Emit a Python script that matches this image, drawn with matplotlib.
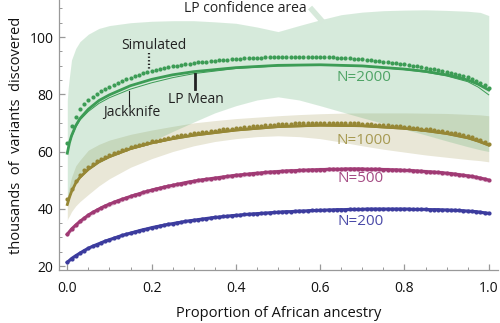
import matplotlib
matplotlib.use("Agg")
import matplotlib.pyplot as plt
import numpy as np

plt.rcParams['font.family'] = ['Open Sans', 'DejaVu Sans']

# ---------------- data ----------------
x_sim = [round(i * 0.01, 2) for i in range(101)]

sim_200 = [21.3, 22.6, 23.6, 24.5, 25.4, 26.2, 26.9, 27.5, 28.1, 28.7,
           29.2, 29.7, 30.2, 30.7, 31.1, 31.5, 31.9, 32.3, 32.7, 33.0,
           33.4, 33.7, 34.0, 34.3, 34.6, 34.8, 35.1, 35.3, 35.6, 35.8,
           36.0, 36.2, 36.4, 36.6, 36.8, 37.0, 37.1, 37.3, 37.4, 37.6,
           37.7, 37.8, 38.0, 38.1, 38.2, 38.3, 38.4, 38.5, 38.6, 38.7,
           38.8, 38.9, 39.0, 39.0, 39.1, 39.2, 39.2, 39.3, 39.4, 39.4,
           39.5, 39.5, 39.6, 39.6, 39.7, 39.7, 39.7, 39.8, 39.8, 39.8,
           39.8, 39.9, 39.9, 39.9, 39.9, 39.9, 39.9, 39.9, 39.9, 39.9,
           39.9, 39.9, 39.8, 39.8, 39.8, 39.8, 39.7, 39.7, 39.7, 39.6,
           39.6, 39.5, 39.5, 39.4, 39.3, 39.2, 39.1, 39.0, 38.8, 38.6,
           38.4]

sim_500 = [31.1, 32.9, 34.3, 35.6, 36.7, 37.8, 38.7, 39.5, 40.3, 41.0,
           41.6, 42.2, 42.8, 43.3, 43.8, 44.3, 44.8, 45.2, 45.7, 46.1,
           46.5, 46.9, 47.2, 47.6, 47.9, 48.2, 48.5, 48.8, 49.1, 49.4,
           49.6, 49.9, 50.1, 50.3, 50.5, 50.7, 50.9, 51.1, 51.3, 51.5,
           51.7, 51.8, 52.0, 52.1, 52.3, 52.4, 52.5, 52.7, 52.8, 52.9,
           53.0, 53.1, 53.2, 53.3, 53.3, 53.4, 53.5, 53.5, 53.6, 53.6,
           53.7, 53.7, 53.8, 53.8, 53.8, 53.8, 53.9, 53.9, 53.9, 53.9,
           53.9, 53.8, 53.8, 53.8, 53.8, 53.7, 53.7, 53.6, 53.6, 53.5,
           53.4, 53.4, 53.3, 53.2, 53.1, 53.0, 52.9, 52.8, 52.7, 52.6,
           52.4, 52.3, 52.1, 51.9, 51.7, 51.5, 51.3, 51.0, 50.7, 50.4,
           50.0]

sim_1000 = [43.4, 47.0, 49.8, 51.8, 53.4, 54.7, 55.8, 56.7, 57.5, 58.2,
            58.8, 59.4, 60.0, 60.5, 61.0, 61.5, 61.9, 62.3, 62.7, 63.1,
            63.5, 63.8, 64.1, 64.4, 64.7, 65.0, 65.3, 65.6, 65.8, 66.1,
            66.3, 66.5, 66.7, 66.9, 67.1, 67.3, 67.5, 67.7, 67.8, 68.0,
            68.2, 68.3, 68.5, 68.6, 68.8, 68.9, 69.0, 69.2, 69.3, 69.4,
            69.5, 69.6, 69.6, 69.7, 69.8, 69.8, 69.9, 69.9, 69.9, 70.0,
            70.0, 70.0, 70.0, 70.0, 70.0, 70.0, 69.9, 69.9, 69.8, 69.8,
            69.7, 69.6, 69.5, 69.4, 69.3, 69.2, 69.1, 69.0, 68.9, 68.8,
            68.6, 68.5, 68.3, 68.2, 68.0, 67.8, 67.7, 67.5, 67.3, 67.1,
            66.8, 66.6, 66.3, 66.0, 65.7, 65.3, 64.9, 64.5, 64.0, 63.4,
            62.7]

sim_2000 = [62.9, 68.8, 72.2, 74.7, 76.6, 78.0, 79.1, 80.1, 81.0, 81.8,
            82.6, 83.3, 84.0, 84.6, 85.2, 85.8, 86.3, 86.8, 87.3, 87.8,
            88.2, 88.5, 88.8, 89.1, 89.4, 89.7, 90.0, 90.2, 90.5, 90.7,
            90.9, 91.1, 91.3, 91.4, 91.6, 91.7, 91.9, 92.0, 92.1, 92.2,
            92.3, 92.4, 92.5, 92.6, 92.7, 92.7, 92.8, 92.9, 92.9, 93.0,
            93.0, 93.0, 93.1, 93.1, 93.1, 93.1, 93.1, 93.1, 93.1, 93.1,
            93.0, 93.0, 92.9, 92.9, 92.8, 92.7, 92.6, 92.5, 92.4, 92.3,
            92.2, 92.0, 91.9, 91.7, 91.6, 91.4, 91.2, 91.0, 90.8, 90.6,
            90.4, 90.2, 90.0, 89.8, 89.5, 89.3, 89.0, 88.7, 88.4, 88.1,
            87.8, 87.5, 87.1, 86.7, 86.3, 85.9, 85.4, 84.8, 84.1, 83.2,
            82.1]

x_lp = [0.0, 0.005, 0.01, 0.02, 0.03, 0.05, 0.075, 0.1, 0.15, 0.2, 0.25,
        0.3, 0.4, 0.5, 0.6, 0.7, 0.8, 0.85, 0.9, 0.95, 0.975, 1.0]
lp_2000 = [59.4, 63.0, 65.5, 69.0, 71.5, 74.8, 77.8, 79.8, 83.0, 85.2, 86.8,
           87.9, 89.3, 90.1, 90.3, 89.9, 88.8, 88.0, 86.8, 85.0, 83.5, 81.5]
jk_2000 = [60.0, 62.8, 65.0, 68.5, 71.0, 74.0, 76.8, 78.8, 81.8, 84.0, 85.8,
           87.2, 89.0, 89.9, 90.2, 89.8, 88.6, 87.7, 86.4, 84.4, 82.5, 79.8]
lp_1000 = [41.5, 44.0, 46.0, 49.0, 51.0, 53.8, 56.4, 58.2, 61.0, 63.0, 64.5,
           65.7, 67.5, 68.7, 69.2, 69.0, 68.1, 67.3, 66.3, 64.8, 63.7, 62.3]
jk_1000 = [41.2, 43.7, 45.7, 48.7, 50.7, 53.5, 56.1, 57.9, 60.7, 62.7, 64.2,
           65.4, 67.2, 68.4, 68.9, 68.7, 67.8, 67.0, 66.0, 64.5, 63.3, 61.9]

x_band = [0.0, 0.002, 0.005, 0.01, 0.02, 0.03, 0.05, 0.075, 0.1, 0.15, 0.2,
          0.25, 0.3, 0.35, 0.4, 0.45, 0.5, 0.55, 0.6, 0.65, 0.7, 0.75, 0.8,
          0.85, 0.9, 0.95, 0.98, 1.0]
ci2000_hi = [78.0, 82.0, 86.0, 92.0, 96.0, 98.4, 101.0, 103.0, 104.0, 105.0,
             105.5, 105.7, 105.7, 105.3, 104.8, 103.5, 101.9, 104.0, 106.0,
             107.8, 108.7, 109.2, 109.4, 109.5, 109.3, 109.0, 108.6, 107.5]
ci2000_lo = [44.0, 44.5, 45.0, 47.0, 49.5, 51.0, 53.5, 56.0, 58.0, 61.0,
             63.5, 67.0, 70.3, 73.5, 76.0, 78.0, 79.1, 78.0, 76.0, 73.9,
             71.8, 69.8, 67.8, 65.8, 63.7, 61.7, 60.6, 60.0]
ci1000_hi = [44.0, 46.0, 48.0, 51.0, 55.0, 57.0, 60.5, 62.5, 64.0, 66.0,
             67.5, 68.8, 70.0, 70.8, 71.5, 72.0, 72.5, 72.9, 73.2, 73.4,
             73.5, 73.5, 73.5, 73.4, 73.3, 73.0, 72.8, 72.5]
ci1000_lo = [36.0, 36.8, 37.5, 39.0, 41.0, 42.5, 45.0, 48.0, 50.5, 54.5,
             57.5, 60.0, 62.0, 63.5, 64.5, 65.2, 65.5, 65.2, 64.5, 63.3,
             62.0, 60.8, 59.8, 58.8, 58.0, 57.2, 56.8, 56.4]

labels_N = ["N=2000", "N=1000", "N=500", "N=200"]
label_x = [0.705, 0.705, 0.695, 0.695]
label_y = [85.7, 64.0, 50.7, 35.4]

# ---------------- colours ----------------
c2000 = "#3c9c55"
c1000 = "#968735"
c500 = "#a03a74"
c200 = "#3c3c9e"
lab_cols = ["#4fa466", "#a79a52", "#a54c84", "#4a4aa8"]

fig = plt.figure(figsize=(5.0, 3.23), dpi=100)
ax = fig.add_axes([0.118, 0.164, 0.878, 0.836])

# confidence areas
ax.fill_between(x_band, ci1000_lo, ci1000_hi, color="#a9a060", alpha=0.25,
                lw=0, zorder=1)
ax.fill_between(x_band, ci2000_lo, ci2000_hi, color="#5fae73", alpha=0.25,
                lw=0, zorder=1)
ax.fill_between(x_sim, np.array(sim_500) - 0.8, np.array(sim_500) + 0.8,
                color="#e9cfe0", lw=0, zorder=1)
ax.fill_between(x_sim, np.array(sim_200) - 0.6, np.array(sim_200) + 0.6,
                color="#d8d8ef", lw=0, zorder=1)
# pointer stroke from the label
ax.plot([0.576, 0.606], [110.3, 105.3], color="#d7e9db", lw=4,
        solid_capstyle="butt", zorder=1)

# LP mean / jackknife lines
ax.plot(x_lp, jk_2000, color=c2000, lw=0.7, zorder=3)
ax.plot(x_lp, lp_2000, color=c2000, lw=2.0, zorder=3)
ax.plot(x_lp, jk_1000, color=c1000, lw=0.7, zorder=3)
ax.plot(x_lp, lp_1000, color=c1000, lw=2.0, zorder=3)
ax.plot(x_sim, sim_500, color=c500, lw=2.2, zorder=3)
ax.plot(x_sim, sim_200, color=c200, lw=2.2, zorder=3)

# simulated dots
for ys, c in [(sim_2000, c2000), (sim_1000, c1000), (sim_500, c500),
              (sim_200, c200)]:
    ax.plot(x_sim, ys, ls="none", marker="o", ms=3.0, mec="none", mfc=c,
            zorder=4)

# N labels
for t, lx, ly, c in zip(labels_N, label_x, label_y, lab_cols):
    ax.text(lx, ly, t, color=c, fontsize=11, ha="center", va="center",
            zorder=5)

# annotations
ax.text(0.2046, 97.2, "Simulated", fontsize=10, ha="center", va="center",
        color="#222222", zorder=5)
ax.plot([0.194, 0.194], [94.3, 88.4], color="#222222", lw=1.6,
        ls=(0, (0.6, 1.0)), zorder=5)
ax.text(0.305, 78.3, "LP Mean", fontsize=10, ha="center", va="center",
        color="#222222", zorder=5)
ax.plot([0.303, 0.303], [87.2, 81.8], color="#222222", lw=2.0, zorder=5)
ax.text(0.153, 73.8, "Jackknife", fontsize=10, ha="center", va="center",
        color="#222222", zorder=5)
ax.plot([0.146, 0.146], [81.0, 75.9], color="#222222", lw=0.8, zorder=5)
ax.text(0.422, 110.0, "LP confidence area", fontsize=10, ha="center",
        va="center", color="#222222", zorder=5)

# axes styling
ax.set_xlim(-0.0197, 1.022)
ax.set_ylim(18.6, 112.93)
for s in ["top", "right"]:
    ax.spines[s].set_visible(False)
for s in ["left", "bottom"]:
    ax.spines[s].set_color("#999999")
    ax.spines[s].set_linewidth(0.9)

ax.set_xticks([0.0, 0.2, 0.4, 0.6, 0.8, 1.0])
ax.set_xticklabels(["0.0", "0.2", "0.4", "0.6", "0.8", "1.0"])
ax.set_xticks(np.arange(0, 1.001, 0.05), minor=True)
ax.set_yticks([20, 40, 60, 80, 100])
ax.set_yticklabels(["20", "40", "60", "80", "100"])
ax.set_yticks(np.arange(20, 111, 5), minor=True)
ax.tick_params(axis="both", which="major", direction="in", length=4.5,
               width=0.9, color="#999999", labelsize=10, labelcolor="#111111")
ax.tick_params(axis="both", which="minor", direction="in", length=2.5,
               width=0.7, color="#999999")
ax.tick_params(axis="x", pad=8)
ax.tick_params(axis="y", pad=4)

ax.set_xlabel("Proportion of African ancestry", fontsize=10.5,
              color="#111111", labelpad=7)
ax.set_ylabel("thousands  of  variants  discovered", fontsize=10.5,
              color="#111111", labelpad=4)

fig.savefig("out.png", dpi=100)
